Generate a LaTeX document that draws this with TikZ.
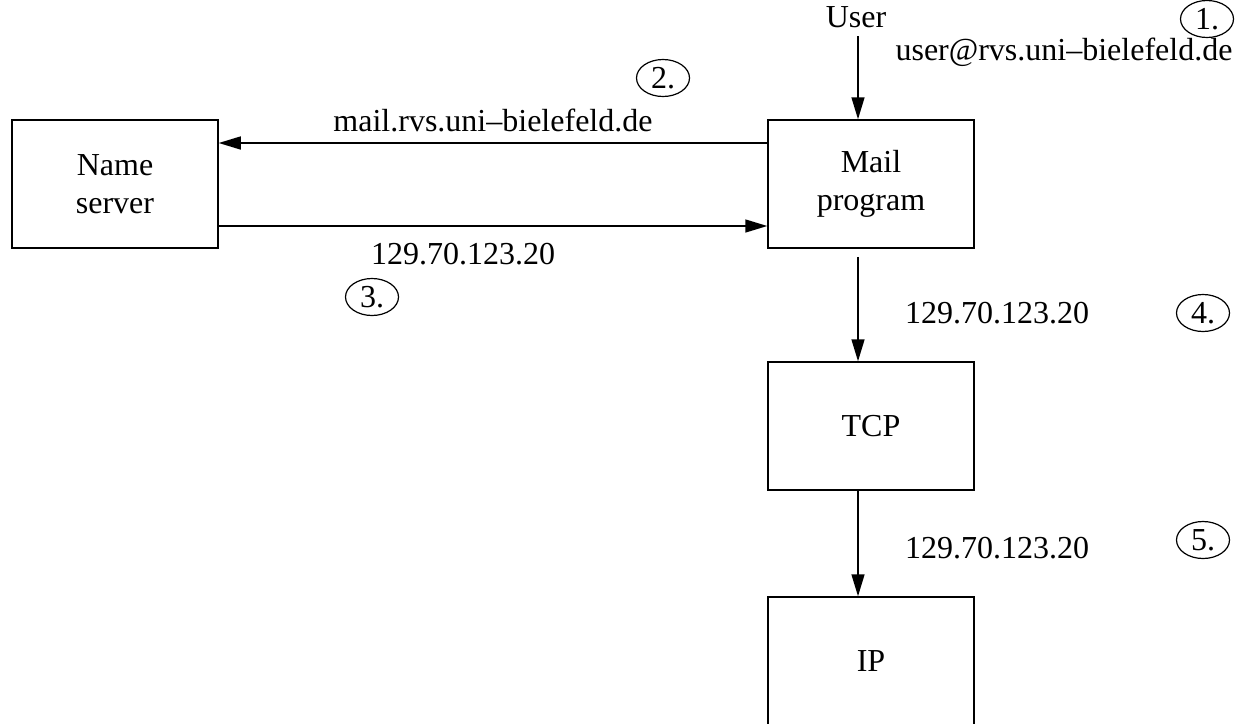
\documentclass[tikz,border=0pt]{standalone}
\usepackage{fontspec}
\setmainfont{Liberation Serif}
\usetikzlibrary{arrows.meta,shapes.geometric}
\begin{document}
\begin{tikzpicture}[x=1pt,y=-1pt,
  font=\fontsize{32}{38}\selectfont,
  line width=1.5pt,
  box/.style={draw, minimum width=206pt, minimum height=128pt, align=center, inner sep=0pt},
  num/.style={draw, ellipse, minimum width=53pt, minimum height=37pt, inner sep=0pt, line width=1.2pt},
  lbl/.style={inner sep=0pt},
  arr/.style={-{Triangle[length=22pt,width=13pt]}}]
\useasboundingbox (0,0) rectangle (1241,723);
% boxes
\node[box] (ns) at (115,184) {Name\\server};
\node[box] (mp) at (871,184) {Mail\\program};
\node[box] (tcp) at (871,426) {TCP};
\node[box] (ip) at (871,661) {IP};
% column of the vertical arrows
\coordinate (col) at (858,0);
% user
\node[lbl] (user) at (856,17) {User};
\node[lbl] (addr) at (1064,52) {user@rvs.uni--bielefeld.de};
% labels
\node[lbl] (l2) at (493,120) {mail.rvs.uni--bielefeld.de};
\node[lbl] (l3) at (463,254) {129.70.123.20};
\node[lbl] (l4) at (997,313) {129.70.123.20};
\node[lbl] (l5) at (997,548) {129.70.123.20};
% numbers
\node[num] (c1) at (1207,19) {1.};
\node[num] (c2) at (663,78) {2.};
\node[num] (c3) at (372,297) {3.};
\node[num] (c4) at (1203,313) {4.};
\node[num] (c5) at (1203,540) {5.};
% arrows
\draw[arr] ([yshift=-8pt]user.south -| col) -- (mp.north -| col);
\draw[arr] ([yshift=41pt]mp.west) -- ([yshift=41pt]ns.east);
\draw[arr] ([yshift=-42pt]ns.east) -- ([yshift=-42pt]mp.west);
\draw[arr] ([yshift=-8pt]mp.south -| col) -- (tcp.north -| col);
\draw[arr] (tcp.south -| col) -- (ip.north -| col);
\end{tikzpicture}
\end{document}
